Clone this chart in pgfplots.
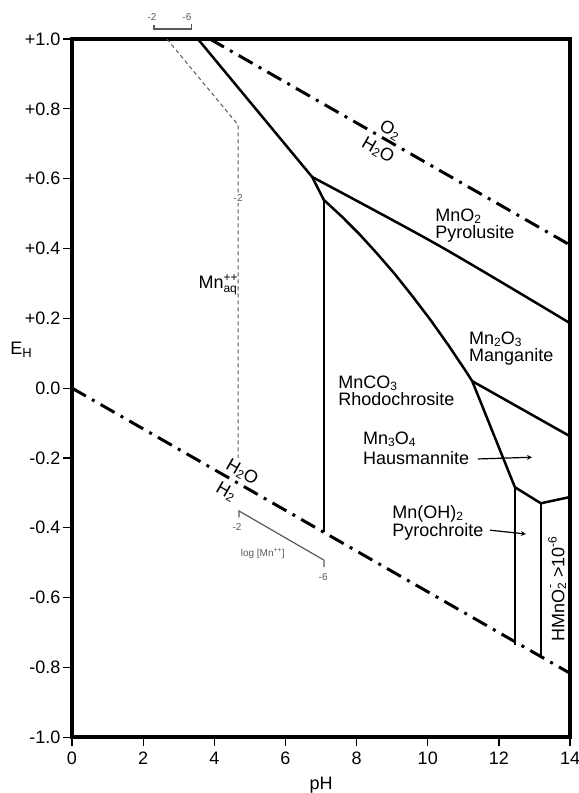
\documentclass[border=0pt]{standalone}
\usepackage{pgfplots}
\pgfplotsset{compat=1.18}
\usepackage{fontspec}
\setmainfont{Liberation Sans}
\newcommand{\sub}[1]{\raisebox{-0.2ex}{\fontsize{12}{12}\selectfont #1}}
\newcommand{\gsz}{\fontsize{10}{11}\selectfont}
\newcommand{\lsz}{\fontsize{18}{20}\selectfont}
\colorlet{gline}{black!65}
\tikzset{lbl/.style={font=\lsz, inner sep=0pt}}
\begin{document}
\begin{tikzpicture}[x=1pt,y=1pt]
\begin{axis}[
  width=498pt, height=698pt, scale only axis,
  xmin=0, xmax=14, ymin=-1, ymax=1,
  clip=false,
  axis line style={line width=4pt},
  tick align=outside, tick pos=left,
  major tick length=9pt,
  every tick/.style={black, line width=1.2pt},
  xtick={0,2,4,6,8,10,12,14},
  xticklabels={0,2,4,6,8,10,12,14},
  ytick={-1,-0.8,-0.6,-0.4,-0.2,0,0.2,0.4,0.6,0.8,1},
  yticklabels={-1.0,-0.8,-0.6,-0.4,-0.2,0.0,+0.2,+0.4,+0.6,+0.8,+1.0},
  tick label style={font=\lsz},
  xticklabel style={yshift=-2pt},
  yticklabel style={xshift=1pt},
  xlabel={pH},
  xlabel style={font=\lsz, at={(rel axis cs:0.5,-0.0688)}, anchor=center},
  ylabel={E\raisebox{-0.3ex}{\fontsize{13}{13}\selectfont H}},
  ylabel style={font=\lsz, rotate=-90, at={(rel axis cs:-0.1024,0.5544)}, anchor=center},
]
% water stability lines
\addplot[black, line width=3pt, dash pattern=on 16pt off 7pt on 3pt off 7pt] coordinates {(3.88,1.0) (14,0.41)};
\addplot[black, line width=3pt, dash pattern=on 16pt off 7pt on 3pt off 7pt] coordinates {(0,0) (14,-0.817)};
% Mn++ / MnO2 and MnCO3 boundary
\addplot[black, line width=2.5pt, line join=miter] coordinates {(3.54,1.0) (6.75,0.605) (7.08,0.539)};
% MnO2 / Mn2O3
\addplot[black, line width=2.5pt, smooth] coordinates {(6.75,0.605) (10.32,0.408) (14,0.186)};
% Mn++ / MnCO3 vertical
\addplot[black, line width=2.5pt] coordinates {(7.08,0.539) (7.08,-0.413)};
% MnCO3 / Mn2O3 curve
\addplot[black, line width=2.5pt, line join=round] coordinates {(7.08,0.539) (7.58,0.492) (8.08,0.441) (8.58,0.385) (9.08,0.326) (9.58,0.262) (10.08,0.195) (10.58,0.123) (11.08,0.047) (11.25,0.02)};
% MnCO3 / Mn3O4
\addplot[black, line width=2.5pt] coordinates {(11.25,0.02) (12.45,-0.284)};
% Mn2O3 / Mn3O4
\addplot[black, line width=2.5pt] coordinates {(11.25,0.02) (14,-0.138)};
% Mn3O4 lower boundary
\addplot[black, line width=2.5pt, line join=miter] coordinates {(12.45,-0.284) (13.18,-0.33) (14,-0.312)};
\addplot[black, line width=2.5pt] coordinates {(12.45,-0.284) (12.45,-0.736)};
\addplot[black, line width=2.5pt] coordinates {(13.18,-0.33) (13.18,-0.774)};
% dashed log[Mn++] = -2 line
\addplot[gline, line width=1pt, dash pattern=on 4pt off 3pt] coordinates {(2.67,1.0) (4.67,0.754) (4.67,-0.20)};
% top bracket
\addplot[gline, line width=1.2pt] coordinates {(2.305,1.040) (2.305,1.029) (3.37,1.029) (3.37,1.043)};
% bottom bracket
\addplot[gline, line width=1.2pt] coordinates {(4.695,-0.370) (4.695,-0.352) (7.085,-0.493) (7.085,-0.513)};
% arrows
\addplot[black, line width=1.2pt, -stealth] coordinates {(11.41,-0.203) (12.93,-0.198)};
\addplot[black, line width=1.2pt, -stealth] coordinates {(11.75,-0.407) (12.76,-0.418)};
% small gray labels
\node[gline, font=\gsz, fill=white, inner sep=1pt] at (axis cs:4.67,0.544) {-2};
\node[gline, font=\gsz, inner sep=0pt] at (axis cs:2.25,1.062) {-2};
\node[gline, font=\gsz, inner sep=0pt] at (axis cs:3.23,1.062) {-6};
\node[gline, font=\gsz, inner sep=0pt] at (axis cs:4.64,-0.398) {-2};
\node[gline, font=\gsz, inner sep=0pt] at (axis cs:7.06,-0.542) {-6};
\node[gline, font=\gsz, inner sep=0pt] at (axis cs:5.36,-0.473) {log [Mn\raisebox{0.7ex}{\fontsize{7}{7}\selectfont ++}]};
% water labels
\node[lbl, rotate=-29.8] at (axis cs:8.94,0.739) {O\sub{2}};
\node[lbl, rotate=-29.8] at (axis cs:8.60,0.682) {H\sub{2}O};
\node[lbl, rotate=-29.8] at (axis cs:4.78,-0.241) {H\sub{2}O};
\node[lbl, rotate=-29.8] at (axis cs:4.33,-0.298) {H\sub{2}};
% field labels
\node[lbl, anchor=base west] at (axis cs:10.21,0.477) {MnO\sub{2}};
\node[lbl, anchor=base west] at (axis cs:10.21,0.428) {Pyrolusite};
\node[lbl, anchor=base west] at (axis cs:11.16,0.124) {Mn\sub{2}O\sub{3}};
\node[lbl, anchor=base west] at (axis cs:11.16,0.076) {Manganite};
\node[lbl, anchor=base west] at (axis cs:7.48,-0.002) {MnCO\sub{3}};
\node[lbl, anchor=base west] at (axis cs:7.48,-0.051) {Rhodochrosite};
\node[lbl, anchor=base west] at (axis cs:8.18,-0.162) {Mn\sub{3}O\sub{4}};
\node[lbl, anchor=base west] at (axis cs:8.18,-0.220) {Hausmannite};
\node[lbl, anchor=base west] at (axis cs:9.0,-0.374) {Mn(OH)\sub{2}};
\node[lbl, anchor=base west] at (axis cs:9.0,-0.426) {Pyrochroite};
\node[lbl, anchor=base east] at (axis cs:4.64,0.285) {Mn\rlap{\raisebox{0.75ex}{\fontsize{12}{12}\selectfont ++}}\raisebox{-0.45ex}{\fontsize{12}{12}\selectfont aq}};
\node[lbl, rotate=90] at (axis cs:13.64,-0.576) {HMnO\sub{2}\llap{\raisebox{1.1ex}{\fontsize{12}{12}\selectfont -\,}} >10\raisebox{0.8ex}{\fontsize{12}{12}\selectfont -6}};
\coordinate (bbl) at (axis cs:-2.024,-1.160);
\coordinate (btr) at (axis cs:14.226,1.112);
\end{axis}
\pgfresetboundingbox
\path (bbl) rectangle (btr);
\end{tikzpicture}
\end{document}
